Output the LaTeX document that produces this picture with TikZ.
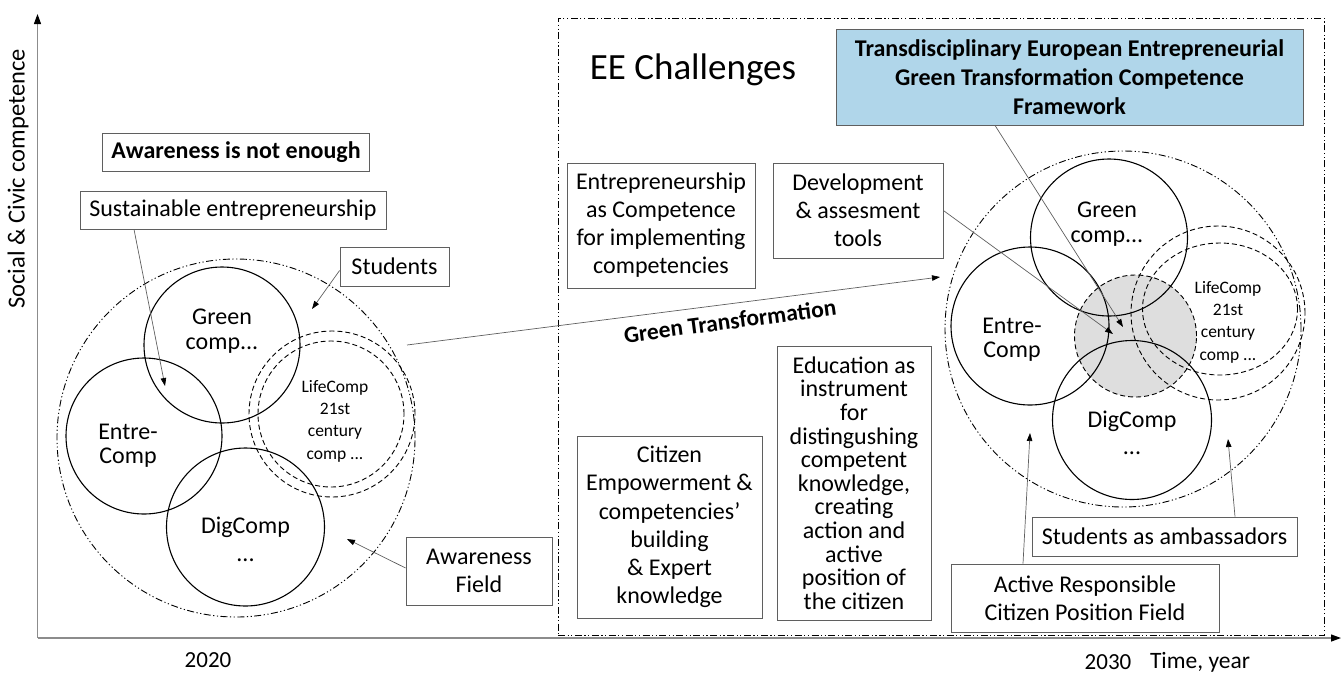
\documentclass[tikz,border=0pt]{standalone}
\usepackage{fontspec}
\setmainfont{Carlito}
\usetikzlibrary{arrows.meta}
\definecolor{boxblue}{RGB}{176,214,234}
\definecolor{shadegray}{RGB}{222,222,222}
\definecolor{linegray}{RGB}{95,95,95}
\definecolor{axisgray}{RGB}{140,140,140}
\newcommand{\mysz}{\fontsize{24}{28}\selectfont}
\newcommand{\smallsz}{\fontsize{17.5}{22.3}\selectfont}
\begin{document}
\begin{tikzpicture}[x=1pt,y=-1pt,
  box/.style={draw=linegray, line width=0.8pt, align=center, inner sep=0pt, font=\mysz},
  ring/.style={draw=black, line width=1.1pt},
  dashring/.style={draw=black, line width=0.9pt, dash pattern=on 5pt off 3pt},
  ddd/.style={draw=black, line width=0.9pt, dash pattern=on 7pt off 2.5pt on 1.2pt off 2.5pt on 1.2pt off 2.5pt},
  conn/.style={draw=linegray, line width=0.7pt, -{Triangle[length=8pt,width=5.5pt,color=black]}},
  axis/.style={draw=axisgray, line width=1.2pt, -{Triangle[length=10pt,width=7pt,color=black]}},
  lbl/.style={align=center, inner sep=0pt, font=\mysz},
  slbl/.style={align=center, inner sep=0pt, font=\smallsz}]
\useasboundingbox (0,0) rectangle (1341,673);

% axes
\coordinate (o) at (37.5,638);
\coordinate (ytip) at (37.5,14);
\coordinate (xtip) at (1341,638);
\draw[axis] (o) -- (ytip);
\draw[axis] (o) -- (xtip);
\node[lbl, rotate=90, font=\fontsize{24.5}{28}\selectfont] (ylab) at (18,179) {Social \& Civic competence};
\node[lbl, font=\fontsize{23}{28}\selectfont] (y2020) at (208,660) {2020};
\node[lbl, font=\fontsize{23}{28}\selectfont] (y2030) at (1108,662) {2030};
\node[lbl, font=\fontsize{23.5}{28}\selectfont] (tyear) at (1200,662) {Time, year};

% frame of EE challenges
\node[ddd, minimum width=766pt, minimum height=617pt, inner sep=0pt] (frame) at (941,326.5) {};
\node[lbl, font=\fontsize{37}{44}\selectfont] (ee) at (693,70) {EE Challenges};

% ---------- left cluster ----------
\draw[ddd] (236,438) circle[radius=179pt];
\draw[ring] (222,345) circle[radius=78pt];
\draw[ring] (144,436) circle[radius=78pt];
\draw[ring] (245.5,527) circle[radius=79pt];
\draw[dashring] (332,414) circle[radius=83pt];
\draw[dashring] (331,414) circle[radius=73pt];
\node[lbl, font=\fontsize{24}{24.5}\selectfont] (lgreen) at (222,331) {Green\\comp...};
\node[lbl, font=\fontsize{24}{24}\selectfont] (lentre) at (128,446) {Entre-\\Comp};
\node[lbl, font=\fontsize{24}{28}\selectfont] (ldig) at (245.5,539) {DigComp\\...};
\node[slbl] (llife) at (335,421) {LifeComp\\21st\\century\\comp ...};

\node[box, font=\mysz\bfseries, minimum width=267pt, minimum height=38pt] (aware) at (236,152) {Awareness is not enough};
\node[box, minimum width=306pt, minimum height=38pt] (sust) at (233,210) {Sustainable entrepreneurship};
\node[box, minimum width=109pt, minimum height=39pt] (stud) at (394.5,266.5) {Students};
\node[box, minimum width=146pt, minimum height=68pt] (afield) at (479,571) {Awareness\\Field};

\coordinate (sustTip) at (165,386);
\coordinate (studTip) at (312,309);
\coordinate (afTip) at (347,539);
\draw[conn] ([xshift=-99pt]sust.south) -- (sustTip);
\draw[conn] ([yshift=-4pt]stud.west) -- (studTip);
\draw[conn] ([yshift=3pt]afield.west) -- (afTip);

% green transformation arrow
\coordinate (gtStart) at (407,345);
\coordinate (gtEnd) at (940,277);
\draw[conn] (gtStart) -- (gtEnd);
\node[lbl, font=\fontsize{23.5}{28}\selectfont\bfseries, rotate=7.5] (gtlbl) at (730,321) {Green Transformation};

% ---------- middle boxes ----------
\node[box, minimum width=188pt, minimum height=125pt, font=\fontsize{24}{28}\selectfont] (entc) at (661,225.5) {Entrepreneurship\\as Competence\\for implementing\\competencies};
\node[box, minimum width=170pt, minimum height=95pt, font=\fontsize{24}{28}\selectfont] (dev) at (858,210.5) {Development\\\& assesment\\tools};
\node[box, minimum width=185pt, minimum height=182pt, font=\fontsize{24}{28.3}\selectfont] (cit) at (669.5,527) {Citizen\\Empowerment \&\\competencies’\\building\\\& Expert\\knowledge};
\node[box, minimum width=154pt, minimum height=274pt, font=\fontsize{24}{23.6}\selectfont] (edu) at (854,483) {Education as\\instrument\\for\\distingushing\\competent\\knowledge,\\creating\\action and\\active\\position of\\the citizen};
\node[box, fill=boxblue, minimum width=467pt, minimum height=96pt, font=\fontsize{24}{29}\selectfont\bfseries] (blue) at (1069.5,77) {Transdisciplinary European Entrepreneurial\\Green Transformation Competence\\Framework};

% ---------- right cluster ----------
\fill[shadegray] (1135.5,336) circle[radius=61pt];
\draw[dashring] (1135.5,336) circle[radius=61pt];
\draw[ddd] (1123,329) circle[radius=178pt];
\draw[ring] (1109,237.5) circle[radius=78.5pt];
\draw[ring] (1030,326) circle[radius=79pt];
\draw[ring] (1132,420) circle[radius=79.5pt];
\draw[dashring] (1218,313) circle[radius=87pt];
\draw[dashring] (1220,309) ellipse[x radius=77.5pt, y radius=66pt];
\node[lbl, font=\fontsize{24}{24.5}\selectfont] (rgreen) at (1107,224) {Green\\comp...};
\node[lbl, font=\fontsize{24}{24}\selectfont] (rentre) at (1012,340) {Entre-\\Comp};
\node[lbl, font=\fontsize{24}{27}\selectfont] (rdig) at (1132,433) {DigComp\\...};
\node[slbl] (rlife) at (1228,322) {LifeComp\\21st\\century\\comp ...};

\node[box, minimum width=265pt, minimum height=39pt] (amb) at (1164.5,536.5) {Students as ambassadors};
\node[box, minimum width=268pt, minimum height=68pt] (act) at (1085,598) {Active Responsible\\Citizen Position Field};

\coordinate (devTip) at (1113,334);
\coordinate (blueTip) at (1123,327);
\coordinate (ambTip) at (1228,439);
\coordinate (actTip) at (1030,433);
\draw[conn] (dev.east) -- (devTip);
\draw[conn] ([xshift=-74.5pt]blue.south) -- (blueTip);
\draw[conn] ([xshift=70.5pt]amb.north) -- (ambTip);
\draw[conn] ([xshift=-62pt]act.north) -- (actTip);
\end{tikzpicture}
\end{document}
